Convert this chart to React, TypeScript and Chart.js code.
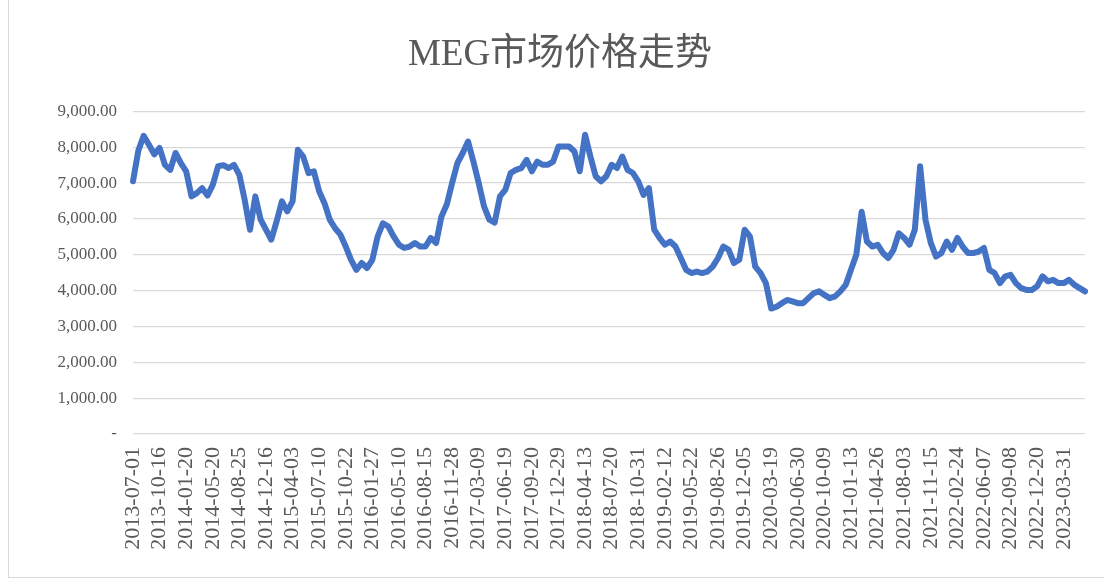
import React, { useEffect, useRef } from "react";
import { Chart, registerables } from "chart.js";

Chart.register(...registerables);

const chartTitle = "MEG市场价格走势";

const tickDates = [
  "2013-07-01", "2013-10-16", "2014-01-20", "2014-05-20", "2014-08-25", "2014-12-16",
  "2015-04-03", "2015-07-10", "2015-10-22", "2016-01-27", "2016-05-10", "2016-08-15",
  "2016-11-28", "2017-03-09", "2017-06-19", "2017-09-20", "2017-12-29", "2018-04-13",
  "2018-07-20", "2018-10-31", "2019-02-12", "2019-05-22", "2019-08-26", "2019-12-05",
  "2020-03-19", "2020-06-30", "2020-10-09", "2021-01-13", "2021-04-26", "2021-08-03",
  "2021-11-15", "2022-02-24", "2022-06-07", "2022-09-08", "2022-12-20", "2023-03-31",
];

// MEG price, sampled at 5 points per labelled interval
const priceValues = [
  7050, 7900, 8320, 8070, 7800, 7980, 7510, 7370, 7840, 7560,
  7330, 6630, 6720, 6860, 6650, 6950, 7470, 7500, 7420, 7510,
  7230, 6530, 5700, 6630, 5980, 5700, 5420, 5930, 6490, 6210,
  6490, 7930, 7740, 7280, 7330, 6770, 6440, 5980, 5740, 5560,
  5230, 4860, 4580, 4770, 4630, 4860, 5510, 5880, 5790, 5510,
  5280, 5190, 5230, 5330, 5230, 5230, 5470, 5330, 6070, 6400,
  7000, 7560, 7840, 8160, 7600, 7000, 6350, 5980, 5900, 6630,
  6810, 7280, 7370, 7420, 7650, 7330, 7600, 7510, 7510, 7600,
  8020, 8020, 8020, 7880, 7330, 8350, 7740, 7190, 7050, 7190,
  7510, 7420, 7740, 7370, 7280, 7050, 6670, 6860, 5700, 5470,
  5280, 5370, 5230, 4910, 4580, 4490, 4530, 4490, 4530, 4670,
  4910, 5230, 5140, 4770, 4860, 5700, 5510, 4670, 4490, 4210,
  3500, 3550, 3650, 3740, 3700, 3650, 3650, 3790, 3930, 3980,
  3880, 3790, 3840, 3980, 4160, 4580, 5000, 6200, 5370, 5230,
  5280, 5050, 4910, 5140, 5600, 5470, 5280, 5700, 7470, 5980,
  5330, 4950, 5050, 5370, 5140, 5470, 5230, 5050, 5050, 5090,
  5190, 4580, 4490, 4210, 4400, 4440, 4210, 4070, 4020, 4020,
  4120, 4400, 4260, 4300, 4210, 4210, 4300, 4160, 4070, 3980,
];

const yTicks = [0, 1000, 2000, 3000, 4000, 5000, 6000, 7000, 8000, 9000];

const POINTS_PER_TICK = 5;

export default function App() {
  const canvasRef = useRef<HTMLCanvasElement | null>(null);

  useEffect(() => {
    if (!canvasRef.current) return;
    const labels = priceValues.map((_, i) =>
      i % POINTS_PER_TICK === 0 && tickDates[i / POINTS_PER_TICK] ? tickDates[i / POINTS_PER_TICK] : ""
    );
    const serif = "'Liberation Serif', 'Times New Roman', 'Noto Sans CJK SC', serif";
    const chart = new Chart(canvasRef.current, {
      type: "line",
      data: {
        labels,
        datasets: [
          {
            label: "MEG",
            data: priceValues,
            borderColor: "#4472C4",
            backgroundColor: "#4472C4",
            borderWidth: 6,
            pointRadius: 0,
            tension: 0,
            borderJoinStyle: "round",
            borderCapStyle: "round",
          },
        ],
      },
      options: {
        responsive: false,
        animation: false,
        layout: { padding: { left: 35, right: 20, top: 0, bottom: 0 } },
        plugins: {
          legend: { display: false },
          tooltip: { enabled: false },
          title: {
            display: true,
            text: chartTitle,
            color: "#595959",
            font: { family: serif, size: 37, weight: "normal", lineHeight: 1.2 },
            padding: { top: 33, bottom: 34 },
          },
        },
        scales: {
          x: {
            type: "category",
            offset: false,
            grid: { display: false },
            border: { display: false },
            ticks: {
              autoSkip: false,
              minRotation: 90,
              maxRotation: 90,
              padding: 5,
              color: "#595959",
              font: { family: serif, size: 22 },
              callback: function (_v: any, idx: number) {
                const l = labels[idx];
                return l ? l : null;
              },
            },
            afterFit: (scale: any) => {
              scale.height = 147;
            },
          },
          y: {
            min: 0,
            max: 9000,
            afterBuildTicks: (scale: any) => {
              scale.ticks = yTicks.map((v) => ({ value: v }));
            },
            grid: { color: "#d9d9d9", lineWidth: 1.3, drawTicks: false },
            border: { display: false },
            ticks: {
              padding: 16,
              color: "#595959",
              font: { family: serif, size: 17 },
              callback: (v: any) =>
                Number(v) === 0
                  ? "-"
                  : Number(v).toLocaleString("en-US", { minimumFractionDigits: 2, maximumFractionDigits: 2 }),
            },
            afterFit: (scale: any) => {
              scale.width = 98;
            },
          },
        },
      },
    });
    return () => chart.destroy();
  }, []);

  return (
    <div style={{ position: "fixed", left: 0, top: 0, width: 1105, height: 581, background: "#fff" }}>
      <canvas ref={canvasRef} width={1105} height={581} style={{ display: "block" }} />
      <div
        style={{
          position: "absolute",
          left: 8,
          top: 0,
          width: 1096,
          height: 578,
          borderLeft: "1px solid #d9d9d9",
          borderBottom: "1px solid #d9d9d9",
          boxSizing: "border-box",
          pointerEvents: "none",
        }}
      />
    </div>
  );
}
